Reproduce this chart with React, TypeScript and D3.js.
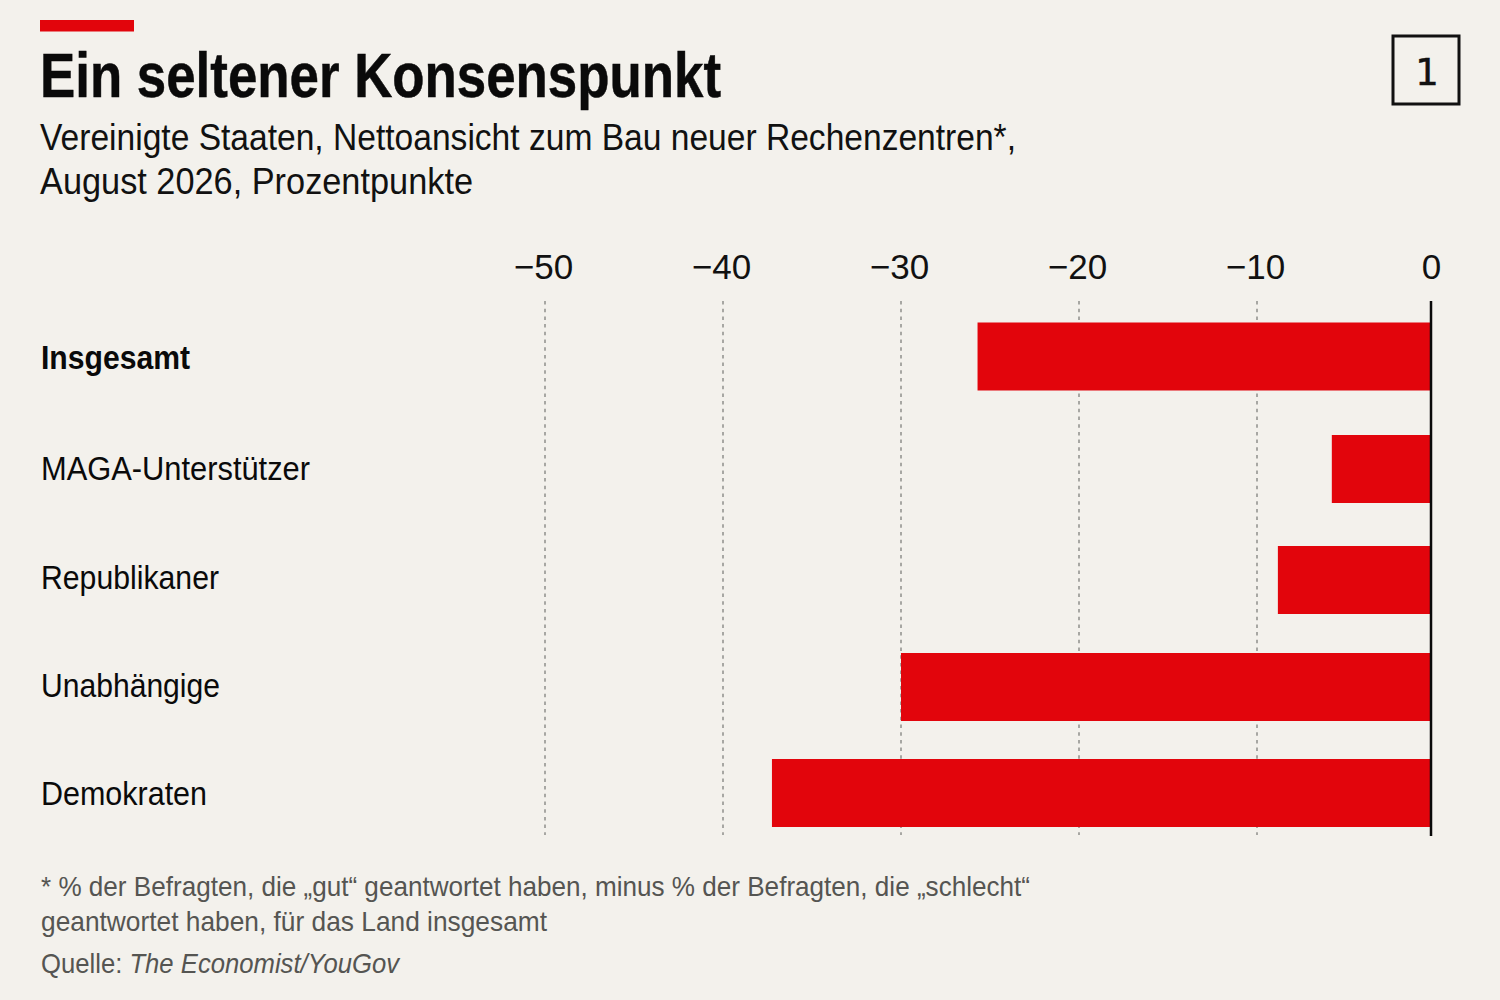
import React, { useEffect, useRef } from 'react';
import * as d3 from 'd3';

const categories = ['Insgesamt', 'MAGA-Unterstützer', 'Republikaner', 'Unabhängige', 'Demokraten'];
const values = [-25.7, -5.7, -8.8, -30, -37.25];
const ticks = [-50, -40, -30, -20, -10, 0];

const title = 'Ein seltener Konsenspunkt';
const subtitleLines = ['Vereinigte Staaten, Nettoansicht zum Bau neuer Rechenzentren*,', 'August 2026, Prozentpunkte'];
const noteLines = [
  '* % der Befragten, die „gut“ geantwortet haben, minus % der Befragten, die „schlecht“',
  'geantwortet haben, für das Land insgesamt',
];

const FONT = '"Liberation Sans", Arial, sans-serif';
const NARROW = '"Liberation Sans Narrow", "Liberation Sans", Arial, sans-serif';
const RED = '#e2050c';
const BG = '#f3f1ec';

export default function App() {
  const ref = useRef<SVGSVGElement>(null);

  useEffect(() => {
    if (!ref.current) return;
    const svg = d3.select(ref.current);
    svg.selectAll('*').remove();

    svg.append('rect').attr('width', 1500).attr('height', 1000).attr('fill', BG);

    // last interval is a little tighter in the original, hence the extra stop
    const x = d3.scaleLinear().domain([-50, -10, 0]).range([545, 1257, 1431]);
    // rows in the original are not quite evenly spaced
    const rowMid = d3.scaleOrdinal<string, number>().domain(categories).range([356.5, 469, 580, 687, 793]);
    const labelY = d3.scaleOrdinal<string, number>().domain(categories).range([358, 468.5, 578, 686, 794]);
    const barHeight = 68;

    // Header
    svg.append('rect').attr('x', 40).attr('y', 20).attr('width', 94).attr('height', 11.5).attr('fill', RED);
    svg.append('text')
      .attr('x', 40).attr('y', 96.5)
      .attr('textLength', 681).attr('lengthAdjust', 'spacingAndGlyphs')
      .style('font-family', FONT).style('font-size', '63px').style('font-weight', 700).style('fill', '#0a0a0a')
      .style('stroke', '#0a0a0a').style('stroke-width', 0.5)
      .text(title);

    const subWidths = [976, 433];
    subtitleLines.forEach((line, i) => {
      svg.append('text')
        .attr('x', 40).attr('y', 150 + i * 44)
        .attr('textLength', subWidths[i]).attr('lengthAdjust', 'spacingAndGlyphs')
        .style('font-family', FONT).style('font-size', '36px').style('fill', '#111')
        .text(line);
    });

    // Page number box
    svg.append('rect').attr('x', 1393).attr('y', 36).attr('width', 66).attr('height', 68)
      .attr('fill', 'none').attr('stroke', '#111').attr('stroke-width', 3);
    svg.append('text').attr('x', 1427).attr('y', 85).attr('text-anchor', 'middle')
      .style('font-family', '"DejaVu Sans", sans-serif').style('font-size', '37px').style('fill', '#111')
      .style('stroke', '#111').style('stroke-width', 0.5)
      .text('1');

    // Axis + dotted grid
    const axis = d3.axisTop(x)
      .tickValues(ticks)
      .tickSize(0)
      .tickPadding(0)
      .tickFormat((d) => (+d < 0 ? `−${Math.abs(+d)}` : `${d}`));
    const axisG = svg.append('g').attr('transform', 'translate(0,279)').call(axis);
    axisG.select('.domain').remove();
    axisG.selectAll('text')
      .style('font-family', FONT).style('font-size', '35px').style('fill', '#111')
      .attr('dy', 0)
      .attr('dx', (d: any) => (+d < 0 ? -2 : 0));

    svg.append('g').selectAll('line')
      .data(ticks.filter((t) => t !== 0))
      .enter().append('line')
      .attr('x1', (d) => x(d)).attr('x2', (d) => x(d))
      .attr('y1', 301).attr('y2', 835)
      .attr('stroke', '#8f8f8b').attr('stroke-width', 1.5).attr('stroke-dasharray', '3.5 4.2');

    // Bars
    svg.append('g').selectAll('rect')
      .data(categories)
      .enter().append('rect')
      .attr('x', (_, i) => x(values[i]))
      .attr('y', (d) => rowMid(d) - barHeight / 2)
      .attr('width', (_, i) => x(0) - x(values[i]))
      .attr('height', barHeight)
      .attr('fill', RED);

    // Zero line
    svg.append('line')
      .attr('x1', x(0)).attr('x2', x(0)).attr('y1', 301).attr('y2', 836)
      .attr('stroke', '#0a0a0a').attr('stroke-width', 2.5);

    // Category labels
    const labelWidths = [149, 269, 178, 179, 166];
    svg.append('g').selectAll('text')
      .data(categories)
      .enter().append('text')
      .attr('x', 41)
      .attr('y', (d) => labelY(d) + 11)
      .attr('textLength', (_, i) => labelWidths[i]).attr('lengthAdjust', 'spacingAndGlyphs')
      .style('font-family', FONT).style('font-size', '33px')
      .style('font-weight', (_, i) => (i === 0 ? 700 : 400)).style('fill', '#0a0a0a')
      .text((d) => d);

    // Footnotes
    const noteWidths = [989, 506];
    noteLines.forEach((line, i) => {
      svg.append('text')
        .attr('x', 41).attr('y', 896 + i * 35)
        .attr('textLength', noteWidths[i]).attr('lengthAdjust', 'spacingAndGlyphs')
        .style('font-family', NARROW).style('font-size', '28px').style('fill', '#555552')
        .text(line);
    });
    const source = svg.append('text').attr('x', 41).attr('y', 972.5)
      .attr('textLength', 358).attr('lengthAdjust', 'spacingAndGlyphs')
      .style('font-family', NARROW).style('font-size', '28px').style('fill', '#555552');
    source.append('tspan').text('Quelle: ');
    source.append('tspan').style('font-style', 'italic').text('The Economist/YouGov');
  }, []);

  return (
    <svg
      ref={ref}
      width={1500}
      height={1000}
      style={{ position: 'absolute', left: 0, top: 0, display: 'block' }}
    />
  );
}
